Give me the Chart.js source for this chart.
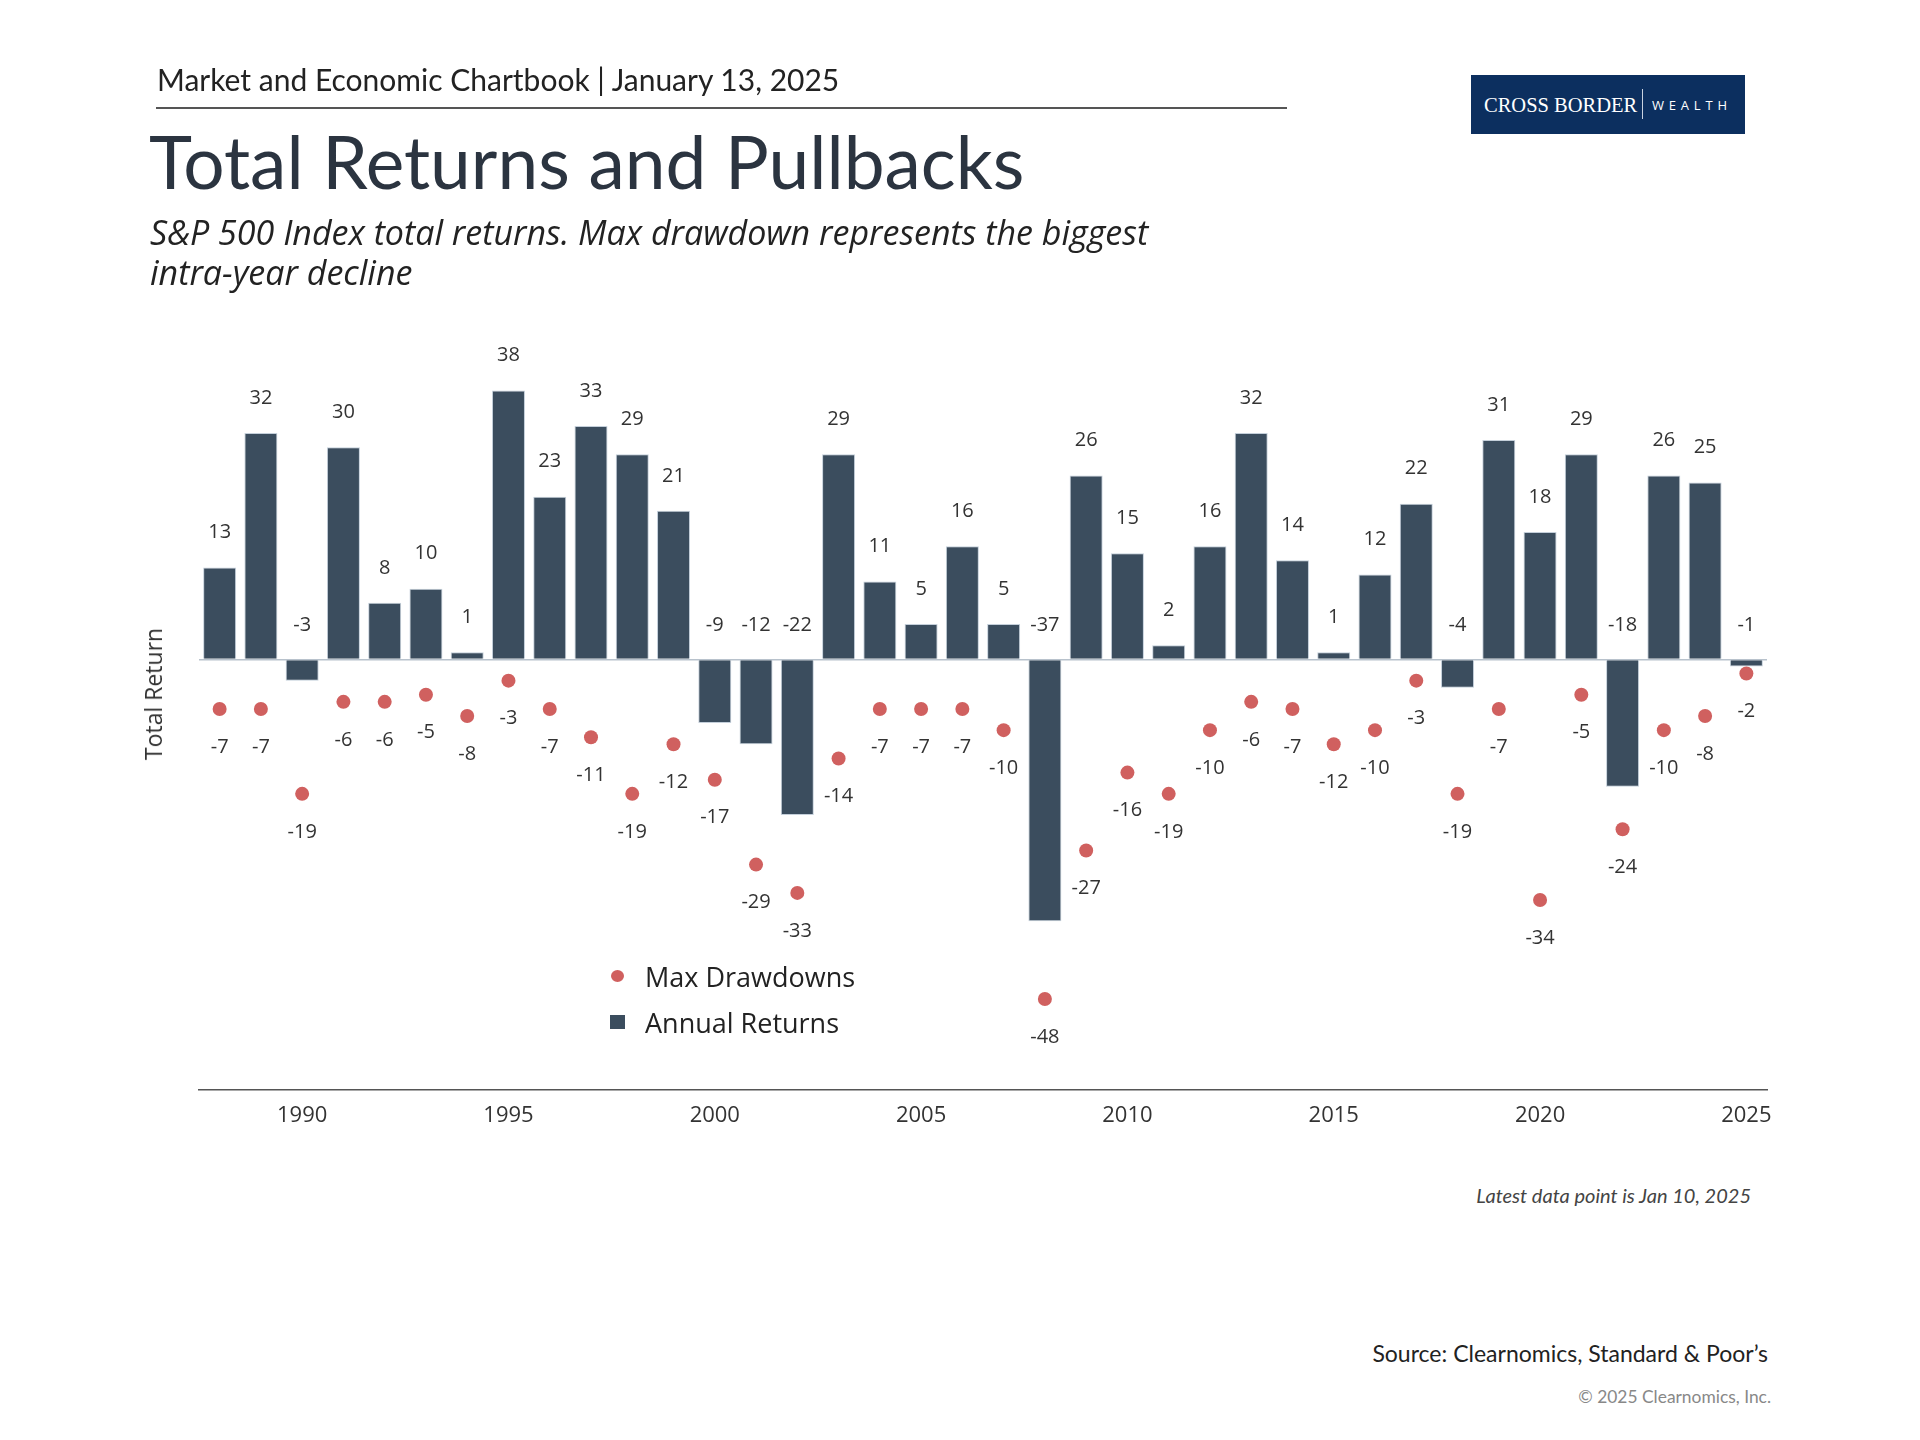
<!DOCTYPE html>
<html>
<head>
<meta charset="UTF-8">
<title>Total Returns and Pullbacks</title>
<script src="https://cdn.jsdelivr.net/npm/chart.js@4.4.1/dist/chart.umd.min.js"></script>
<style>
  body { margin:0; background:#fff; }
  #page { position:relative; width:1920px; height:1440px; overflow:hidden; background:#fff; }
  .txt { position:absolute; white-space:nowrap; }
  #header { left:157px; top:61px; font:30px/36px Lato, sans-serif; color:#222; }
  #rule { position:absolute; left:156px; top:107px; width:1131px; height:1.5px; background:#555; }
  #title { left:149px; top:117px; font:73px/88px Lato, sans-serif; color:#2b3440; }
  #subtitle { left:150px; top:212px; font:italic 34px/40px "Open Sans", sans-serif; color:#222; }
  #logo { position:absolute; left:1471px; top:75px; width:274px; height:59px; background:#0c2f5f; }
  #logo .a { position:absolute; left:13px; top:16px; font:20.5px/28px "Liberation Serif", serif; color:#fff; }
  #logo .sep { position:absolute; left:171px; top:14px; width:1px; height:30px; background:#c9d2e0; }
  #logo .b { position:absolute; left:181px; top:22px; font:13px/16px "Open Sans", sans-serif; letter-spacing:4.8px; color:#fff; }
  #ytitle { left:153px; top:694px; font:23px/28px "Open Sans", sans-serif; color:#333; transform:translate(-50%,-50%) rotate(-90deg); }
  #legend { position:absolute; left:608px; top:954px; font:27px/46px "Open Sans", sans-serif; color:#222; }
  #legend .row { position:relative; height:46px; padding-left:37px; }
  #legend .dot { position:absolute; left:3px; top:16px; width:13px; height:12px; border-radius:50%; }
  #legend .sq { position:absolute; left:2px; top:15px; width:15px; height:14px; }
  #latest { right:169px; top:1182px; font:italic 20px/26px Lato, sans-serif; color:#444; }
  #source { right:152px; top:1339px; font:23px/28px Lato, sans-serif; color:#222; }
  #copy { right:149px; top:1387px; font:17.4px/20px Lato, sans-serif; color:#888; }
  #chartBox { position:absolute; left:0; top:0; width:1920px; height:1160px; }
</style>
</head>
<body>
<div id="page">
  <div id="chartBox"><canvas id="chart" width="1920" height="1160"></canvas></div>
  <div class="txt" id="header">Market and Economic Chartbook | January 13, 2025</div>
  <div id="rule"></div>
  <div class="txt" id="title">Total Returns and Pullbacks</div>
  <div class="txt" id="subtitle">S&amp;P 500 Index total returns. Max drawdown represents the biggest<br>intra-year decline</div>
  <div id="logo"><div class="a">CROSS BORDER</div><div class="sep"></div><div class="b">WEALTH</div></div>
  <div class="txt" id="ytitle">Total Return</div>
  <div id="legend"></div>
  <div class="txt" id="latest">Latest data point is Jan 10, 2025</div>
  <div class="txt" id="source">Source: Clearnomics, Standard &amp; Poor’s</div>
  <div class="txt" id="copy">© 2025 Clearnomics, Inc.</div>
</div>
<script>
const years=[1988,1989,1990,1991,1992,1993,1994,1995,1996,1997,1998,1999,2000,2001,2002,2003,2004,2005,2006,2007,
  2008,2009,2010,2011,2012,2013,2014,2015,2016,2017,2018,2019,2020,2021,2022,2023,2024,2025];
const annualReturns=[13,32,-3,30,8,10,1,38,23,33,29,21,-9,-12,-22,29,11,5,16,5,
  -37,26,15,2,16,32,14,1,12,22,-4,31,18,29,-18,26,25,-1];
const maxDrawdowns=[-7,-7,-19,-6,-6,-5,-8,-3,-7,-11,-19,-12,-17,-29,-33,-14,-7,-7,-7,-10,
  -48,-27,-16,-19,-10,-6,-7,-12,-10,-3,-19,-7,-34,-5,-24,-10,-8,-2];
const seriesNames=["Max Drawdowns","Annual Returns"];

const barColor="#3b4d5e";
const dotColor="#d0605f";

// legend (html, same order as the reference)
legend.innerHTML=
  '<div class="row"><span class="dot" style="background:'+dotColor+'"></span>'+seriesNames[0]+'</div>'+
  '<div class="row"><span class="sq" style="background:'+barColor+'"></span>'+seriesNames[1]+'</div>';

const valueLabels={
  id:"valueLabels",
  afterDatasetsDraw(chart){
    const ctx=chart.ctx;
    const zero=chart.scales.y.getPixelForValue(0);
    ctx.save();
    ctx.font='20px "Open Sans", sans-serif';
    ctx.fillStyle="#333";
    ctx.textAlign="center";
    ctx.textBaseline="middle";
    chart.getDatasetMeta(1).data.forEach((el,i)=>{
      const v=annualReturns[i];
      const y=v>=0 ? el.y-35 : zero-34;
      ctx.fillText(String(v),el.x,y);
    });
    chart.getDatasetMeta(0).data.forEach((el,i)=>{
      ctx.fillText(String(maxDrawdowns[i]),el.x,el.y+38);
    });
    ctx.restore();
  }
};

new Chart(document.getElementById("chart"),{
  data:{
    labels:years.map(String),
    datasets:[
      {type:"line",label:seriesNames[0],data:maxDrawdowns,showLine:false,
       pointRadius:7,pointHoverRadius:7,pointBackgroundColor:dotColor,pointBorderWidth:0,order:0},
      {type:"bar",label:seriesNames[1],data:annualReturns,backgroundColor:barColor,
       borderColor:"rgba(190,202,214,0.9)",borderWidth:1,barPercentage:0.8,categoryPercentage:1,order:1}
    ]
  },
  options:{
    responsive:false,
    animation:false,
    devicePixelRatio:1,
    layout:{padding:{left:199,right:153,top:341,bottom:18}},
    plugins:{legend:{display:false},tooltip:{enabled:false}},
    scales:{
      x:{
        offset:true,
        grid:{color:"transparent",drawTicks:false},
        border:{display:true,color:"#555",width:1.5},
        ticks:{
          autoSkip:false,maxRotation:0,padding:13,color:"#333",
          font:{family:"Open Sans",size:22},
          callback(value){const y=Number(this.getLabelForValue(value));return y%5===0?String(y):"";}
        }
      },
      y:{
        min:-60.8,max:45,
        ticks:{display:false,stepSize:10},
        border:{display:false},
        grid:{drawTicks:false,lineWidth:1.5,
          color:ctx=>ctx.tick && ctx.tick.value===0 ? "#b8c2cc" : "transparent"}
      }
    }
  },
  plugins:[valueLabels]
});
</script>
</body>
</html>
